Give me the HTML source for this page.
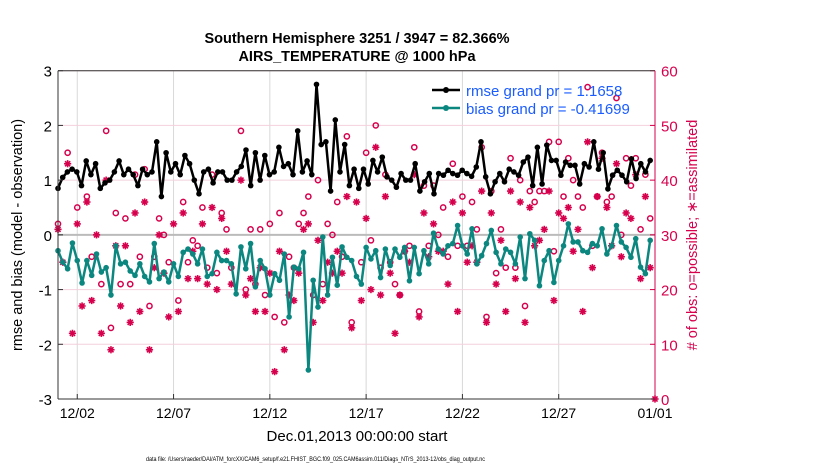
<!DOCTYPE html>
<html><head><meta charset="utf-8"><style>
body{margin:0;background:#fff;}
svg{display:block;font-family:"Liberation Sans",Arial,sans-serif;}
</style></head><body>
<svg id="chart" width="830" height="470" viewBox="0 0 830 470">
<rect width="830" height="470" fill="#fff"/>
<text x="357" y="43" text-anchor="middle" font-size="14.5" font-weight="bold">Southern Hemisphere 3251 / 3947 = 82.366%</text>
<text x="357" y="61" text-anchor="middle" font-size="14.5" font-weight="bold">AIRS_TEMPERATURE @ 1000 hPa</text>
<g id="grid"></g>
<g id="marks"></g>
<g id="axes"></g>
<text transform="translate(22,235) rotate(-90)" text-anchor="middle" font-size="14.5">rmse and bias (model - observation)</text>
<text transform="translate(697,235) rotate(-90)" text-anchor="middle" font-size="14.5" fill="#d6004c"># of obs: o=possible; ∗=assimilated</text>
<text x="357" y="441" text-anchor="middle" font-size="15">Dec.01,2013 00:00:00 start</text>
<text x="146" y="461" font-size="6.2" textLength="339" lengthAdjust="spacingAndGlyphs">data file: /Users/raeder/DAI/ATM_forcXX/CAM6_setup/f.e21.FHIST_BGC.f09_025.CAM6assim.011/Diags_NTrS_2013-12/obs_diag_output.nc</text>
<g>
<line x1="432" y1="90" x2="460" y2="90" stroke="#000" stroke-width="2.5"/><circle cx="446" cy="90" r="3" fill="#000"/>
<text x="466" y="96" font-size="15" fill="#1a5cff">rmse grand pr = 1.1658</text>
<line x1="432" y1="108" x2="460" y2="108" stroke="#0b8780" stroke-width="2.5"/><circle cx="446" cy="108" r="3" fill="#0b8780"/>
<text x="466" y="114" font-size="15" fill="#1a5cff">bias grand pr = -0.41699</text>
</g>
</svg>
<script>
const rmseValues=[0.85,1.05,1.15,1.2,1.15,0.9,1.35,1.1,1.3,0.85,0.95,1.0,1.15,1.35,1.1,1.2,1.1,0.9,1.2,1.1,1.15,1.7,0.7,1.5,1.15,1.3,1.1,1.45,1.3,1.0,0.75,1.15,1.2,0.95,1.15,1.15,1.0,1.0,1.15,1.25,1.55,0.9,1.5,1.0,1.45,1.1,1.15,1.6,1.25,1.3,1.1,1.9,1.15,1.35,1.1,2.75,1.65,1.7,0.8,2.1,1.15,1.65,0.9,1.2,0.85,
1.2,0.93,1.36,1.15,1.42,1.06,1.0,0.87,1.12,1.0,1.0,1.3,0.8,0.97,1.12,0.75,1.12,1.09,1.18,1.12,1.09,1.18,1.12,1.07,1.24,1.7,1.06,0.75,0.97,1.12,0.97,1.2,1.15,1.09,1.33,1.42,0.9,1.6,0.93,1.64,1.36,1.36,1.09,1.33,1.27,1.27,0.93,1.3,1.24,1.7,1.2,1.5,0.84,1.09,1.18,1.09,0.97,1.39,1.03,1.3,1.15,1.36];
const biasValues=[-0.29,-0.5,-0.62,-0.15,-0.47,-0.88,-0.47,-0.74,-0.35,-0.68,-0.6,-1.1,-0.2,-0.53,-0.5,-0.66,-0.74,-0.53,-0.76,-0.86,-0.16,-0.8,-0.68,-0.86,-0.53,-0.76,-0.32,-0.26,-0.35,-0.53,-0.26,-0.76,-0.71,-0.32,-0.47,-0.47,-0.53,-1.08,-0.22,-0.62,-0.16,-0.95,-0.47,-0.62,-1.1,-0.71,-0.83,-0.35,-1.5,-0.59,-0.62,-0.32,-2.47,-0.83,-1.32,-0.04,-1.1,-0.41,-0.92,-0.22,-0.41,-0.47,-0.76,
-0.9,-0.23,-0.44,-0.29,-0.78,-0.26,-0.56,-0.26,-0.41,-0.23,-0.84,-0.23,-0.71,-0.29,-0.53,0.03,-0.26,-0.35,-0.2,-0.16,0.17,-0.2,-0.35,0.11,-0.53,-0.38,-0.16,0.08,-0.32,-0.53,-0.26,-0.32,-0.53,-0.04,-0.8,0.02,-0.1,-0.93,-0.47,-0.29,-0.87,-0.47,-0.2,0.2,-0.13,-0.13,-0.29,-0.32,-0.16,-0.2,0.11,-0.35,-0.2,0.17,-0.13,-0.23,-0.41,-0.07,-0.59,-0.71,-0.1];
const possibleIdx=[0,2,4,6,7,9,10,11,12,13,14,15,16,17,18,19,20,21,22,23,25,26,27,28,29,30,31,32,33,34,35,36,38,39,40,41,42,43,44,45,46,47,48,49,50,51,52,53,54,55,56,57,58,59,60,61,63,64,65,66,67,68,69,70,71,72,73,74,75,76,77,78,79,80,81,82,83,84,85,86,87,88,89,90,91,92,93,94,95,96,97,98,99,100,101,102,103,104,105,106,107,108,109,110,111,112,113,114,115,116,117,118,119,120,121,122,123];
const possibleCounts=[32,45,35,37,26,21,49,13,34,21,33,21,41,26,42,17,26,33,30,25,18,36,25,29,28,35,24,41,23,34,31,24,49,20,31,21,31,19,32,15,34,14,26,24,32,34,37,19,40,21,32,30,36,26,48,14,25,45,29,50,24,41,25,21,19,27,28,46,16,39,28,39,30,35,26,43,28,37,28,36,31,46,15,38,23,31,24,44,24,40,17,38,36,38,38,47,27,47,37,44,40,37,35,57,28,37,45,36,37,55,30,44,39,44,31,41,33];
const assimIdx=[0,1,2,3,4,5,6,7,8,9,10,11,12,13,14,15,16,17,18,19,20,21,22,23,24,25,26,27,28,29,30,31,32,33,34,35,36,38,39,40,41,42,43,44,45,46,47,48,49,50,51,52,53,54,55,56,57,58,59,60,61,62,63,64,65,66,67,68,69,70,71,72,73,74,75,76,77,78,79,80,81,82,83,84,85,86,87,88,89,90,91,92,93,94,95,96,97,98,99,100,101,102,103,104,105,106,107,108,109,110,111,112,113,114,115,116,117,118,119,120,121,122,123,124];
const assimCounts=[31,25,43,12,32,17,36,18,30,12,40,9,28,17,28,14,34,16,36,9,24,30,23,15,32,16,34,22,27,22,32,21,35,20,33,27,21,40,19,22,16,24,16,23,5,27,9,19,18,23,31,32,14,29,18,25,23,27,23,37,13,36,18,33,20,46,19,37,23,12,19,27,25,41,15,34,26,32,27,27,21,36,16,34,25,28,25,38,14,34,21,29,16,38,22,36,14,35,28,29,31,38,18,34,33,35,27,31,16,47,24,37,44,35,28,43,26,34,33,41,22,37,24,0];
const xTickDays=[1,6,11,16,21,26,31];
const xTickLabels=['12/02','12/07','12/12','12/17','12/22','12/27','01/01'];
const leftTicks=[-3,-2,-1,0,1,2,3];
const rightTicks=[0,10,20,30,40,50,60];

const NS='http://www.w3.org/2000/svg';
const L=58,R=655,T=70.7,B=399;
const xs=d=>L+(R-L)*d/31;
const yl=v=>B-(B-T)*(v+3)/6;
const yr=c=>B-(B-T)*c/60;
const MAG='#d6004c',TEAL='#0b8780';
function mk(tag,attrs,parent){const e=document.createElementNS(NS,tag);for(const k in attrs)e.setAttribute(k,attrs[k]);parent.appendChild(e);return e;}
const grid=document.getElementById('grid'),marks=document.getElementById('marks'),axes=document.getElementById('axes');
xTickDays.forEach((d,i)=>{
  const g=mk('line',{x1:xs(d),x2:xs(d),y1:T,y2:B,stroke:'#d8d8d8','stroke-width':1},grid);
  
  
  const t=mk('text',{x:xs(d),y:418,'text-anchor':'middle','font-size':14},axes);
  t.textContent=xTickLabels[i];
  
  
  mk('line',{x1:xs(d),x2:xs(d),y1:B,y2:B-5,stroke:'#333'},axes);
});
leftTicks.forEach(v=>{
  const g=mk('line',{x1:L,x2:R,y1:yl(v),y2:yl(v),stroke:v===0?'#bbb':'#f4d0dc','stroke-width':v===0?2:1},grid);
  
  
  const t=mk('text',{x:L-6,y:yl(v)+6,'text-anchor':'end','font-size':15},axes);
  t.textContent=v;
  
  
  mk('line',{x1:L,x2:L+5,y1:yl(v),y2:yl(v),stroke:'#333'},axes);
});
rightTicks.forEach(c=>{
  const t=mk('text',{x:R+6,y:yr(c)+6,'font-size':15,fill:MAG},axes);
  t.textContent=c;
  
  
  mk('line',{x1:R,x2:R-5,y1:yr(c),y2:yr(c),stroke:MAG},axes);
});
mk('line',{x1:L,x2:L,y1:T,y2:B,stroke:'#333'},axes);
mk('line',{x1:L,x2:R,y1:T,y2:T,stroke:'#333'},axes);
mk('line',{x1:L,x2:R,y1:B,y2:B,stroke:'#333'},axes);
mk('line',{x1:R,x2:R,y1:T,y2:B,stroke:MAG},axes);

possibleIdx.forEach((ix,i)=>{
  const c=mk('circle',{cx:xs(ix/4),cy:yr(possibleCounts[i]),r:2.6,fill:'none',stroke:MAG,'stroke-width':1.5},marks);
  
  
});
assimIdx.forEach((ix,i)=>{
  const x=xs(ix/4),y=yr(assimCounts[i]),r=3.6;
  const g=mk('g',{stroke:MAG,'stroke-width':1.6},marks);
  
  
  for(let a=0;a<4;a++){const an=a*Math.PI/4;mk('line',{x1:x-r*Math.cos(an),y1:y-r*Math.sin(an),x2:x+r*Math.cos(an),y2:y+r*Math.sin(an)},g);}
});
function series(vals,color,name){
  const step=30.75/(vals.length-1);
  const pts=vals.map((v,i)=>xs(i*step).toFixed(1)+','+yl(v).toFixed(1)).join(' ');
  const p=mk('polyline',{points:pts,fill:'none',stroke:color,'stroke-width':2.5,'stroke-linejoin':'round'},marks);
  
  
  vals.forEach((v,i)=>{
    const c=mk('circle',{cx:xs(i*step),cy:yl(v),r:2.8,fill:color},marks);
    
    
  });
}
series(rmseValues,'#000','rmse');
series(biasValues,TEAL,'bias');
</script>
</body></html>
